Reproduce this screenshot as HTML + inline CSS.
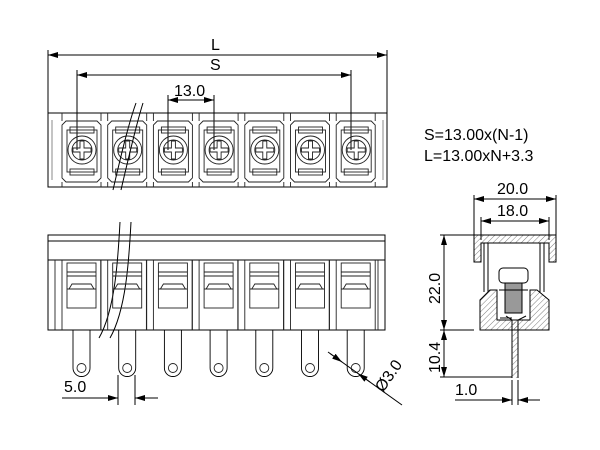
<!DOCTYPE html>
<html><head><style>body{margin:0;background:#fff}svg{display:block}text{font-family:"Liberation Sans",sans-serif;fill:#000}</style></head><body>
<svg width="600" height="450" viewBox="0 0 600 450" xmlns="http://www.w3.org/2000/svg">
<defs>
<marker id="a" viewBox="0 0 10 6" refX="10" refY="3" markerWidth="10" markerHeight="6" orient="auto-start-reverse" markerUnits="userSpaceOnUse"><path d="M0,0L10,3L0,6z" fill="#000"/></marker>
<pattern id="h" width="4" height="4" patternUnits="userSpaceOnUse" patternTransform="rotate(45)"><line x1="0" y1="0" x2="0" y2="4" stroke="#444" stroke-width="0.7"/></pattern>
</defs>
<g stroke="#000" stroke-width="1" fill="none">
<line x1="48" y1="50" x2="48" y2="113"/><line x1="387" y1="50" x2="387" y2="113"/>
<line x1="48" y1="55" x2="387" y2="55" marker-start="url(#a)" marker-end="url(#a)"/>
<line x1="77" y1="70" x2="77" y2="150"/><line x1="351" y1="70" x2="351" y2="150"/>
<line x1="77" y1="75" x2="351" y2="75" marker-start="url(#a)" marker-end="url(#a)"/>
<line x1="168" y1="95" x2="168" y2="150"/><line x1="214" y1="95" x2="214" y2="150"/>
<line x1="168" y1="100" x2="214" y2="100" marker-start="url(#a)" marker-end="url(#a)"/>
<rect x="48" y="113" width="339" height="74"/>
<line x1="52" y1="120" x2="52" y2="180" stroke="#888"/><line x1="383" y1="120" x2="383" y2="180" stroke="#888"/>
</g>
<g stroke="#222" stroke-width="0.9" fill="none">
<g id="m">
<path d="M66,121 h31 l4,4 v53 l-4,4 h-31 l-4,-4 v-53z"/>
<rect x="67" y="130" width="30" height="42"/>
<rect x="70" y="127" width="24" height="6"/><rect x="70" y="169" width="24" height="6"/>
<circle cx="82" cy="150" r="14"/><circle cx="82" cy="150" r="10"/>
<path d="M80,141 v7 h-7 v4 h7 v7 h4 v-7 h7 v-4 h-7 v-7z"/>
<line x1="101" y1="113" x2="101" y2="121" /><line x1="62" y1="113" x2="62" y2="121"/>
<line x1="101" y1="182" x2="101" y2="187" /><line x1="62" y1="182" x2="62" y2="187"/>
</g>
<use href="#m" x="45.7"/><use href="#m" x="91.4"/><use href="#m" x="137.1"/><use href="#m" x="182.8"/><use href="#m" x="228.5"/><use href="#m" x="274.2"/>
</g>
<g stroke="#000" stroke-width="1" fill="none">
<path d="M113,190 C120,160 128,125 136,103"/><path d="M121,190 C128,160 136,125 143,103"/>
<path d="M99,338 C115,310 118,260 120,222"/><path d="M110,338 C126,310 129,260 131,222"/>
<rect x="48" y="235" width="337" height="25"/><line x1="48" y1="241" x2="385" y2="241"/>
<rect x="48" y="260" width="337" height="70"/>
</g>
<g stroke="#222" stroke-width="0.9" fill="none">
<g id="f">
<line x1="55" y1="260" x2="55" y2="330"/><line x1="62" y1="260" x2="62" y2="330"/>
<line x1="101" y1="260" x2="101" y2="330"/>
<rect x="67" y="263" width="29" height="45"/>
<line x1="67" y1="272" x2="96" y2="272"/><line x1="67" y1="276" x2="96" y2="276"/>
<path d="M69,289 l3,-5 h19 l3,5"/><line x1="67" y1="289" x2="96" y2="289"/>
<path d="M73,330 v38 a8.5,8.5 0 0 0 17,0 v-38" stroke="#000"/>
<circle cx="81.5" cy="368" r="4.5"/>
</g>
<use href="#f" x="45.7"/><use href="#f" x="91.4"/><use href="#f" x="137.1"/><use href="#f" x="182.8"/><use href="#f" x="228.5"/><use href="#f" x="274.2"/>
<line x1="378" y1="260" x2="378" y2="330"/>
</g>
<g stroke="#000" stroke-width="1" fill="none">
<line x1="118" y1="375" x2="118" y2="405"/><line x1="135" y1="375" x2="135" y2="405"/>
<line x1="62" y1="398" x2="118" y2="398" marker-end="url(#a)"/>
<line x1="135" y1="398" x2="158" y2="398"/><line x1="145" y1="398" x2="135" y2="398" marker-end="url(#a)"/>
<line x1="328" y1="352" x2="402" y2="405"/>
<line x1="330" y1="353.5" x2="342" y2="362" marker-end="url(#a)"/>
<line x1="370" y1="382" x2="358" y2="373.5" marker-end="url(#a)"/>
<line x1="474" y1="195" x2="474" y2="235"/><line x1="556" y1="195" x2="556" y2="235"/>
<line x1="474" y1="199" x2="556" y2="199" marker-start="url(#a)" marker-end="url(#a)"/>
<line x1="481" y1="217" x2="481" y2="240"/><line x1="549" y1="217" x2="549" y2="240"/>
<line x1="481" y1="221" x2="549" y2="221" marker-start="url(#a)" marker-end="url(#a)"/>
<line x1="440" y1="235" x2="474" y2="235"/><line x1="440" y1="330" x2="474" y2="330"/><line x1="440" y1="377" x2="512" y2="377"/>
<line x1="444" y1="235" x2="444" y2="330" marker-start="url(#a)" marker-end="url(#a)"/>
<line x1="444" y1="330" x2="444" y2="377" marker-start="url(#a)" marker-end="url(#a)"/>
<line x1="512" y1="380" x2="512" y2="405"/><line x1="518" y1="380" x2="518" y2="405"/>
<line x1="455" y1="400" x2="512" y2="400" marker-end="url(#a)"/>
<line x1="540" y1="400" x2="518" y2="400" marker-end="url(#a)"/>
<path d="M474,235 h82 v27 h-7 v-19 h-68 v19 h-7z" fill="url(#h)"/>
<line x1="484" y1="243" x2="484" y2="292"/><line x1="488" y1="243" x2="488" y2="292"/>
<line x1="540" y1="243" x2="540" y2="292"/><line x1="544" y1="243" x2="544" y2="292"/>
<path d="M480,330 v-30 l10,-10 h7 v30 h33 v-30 h7 l12,10 v30z" fill="url(#h)"/>
<rect x="499" y="268" width="29" height="15" rx="4"/>
<rect x="505" y="283" width="17" height="30" fill="#999"/>
<line x1="499" y1="290" x2="528" y2="290"/>
<line x1="500" y1="318" x2="512" y2="318"/>
<path d="M512,378 v-58 l-6,-4 M518,378 v-58 l8,-4" />
<rect x="512" y="322" width="6" height="56" fill="url(#h)" stroke="none"/>
</g>
<g font-size="16">
<text x="211" y="50">L</text>
<text x="210" y="70">S</text>
<text x="174" y="96">13.0</text>
<text x="424" y="140">S=13.00x(N-1)</text>
<text x="424" y="161">L=13.00xN+3.3</text>
<text x="64" y="392">5.0</text>
<text x="497" y="194">20.0</text>
<text x="497" y="216">18.0</text>
<text x="455" y="395">1.0</text>
<text transform="translate(440,304) rotate(-90)">22.0</text>
<text transform="translate(440,373) rotate(-90)">10.4</text>
<text transform="translate(383,393) rotate(-55)">Ø3.0</text>
</g>
</svg>
</body></html>
